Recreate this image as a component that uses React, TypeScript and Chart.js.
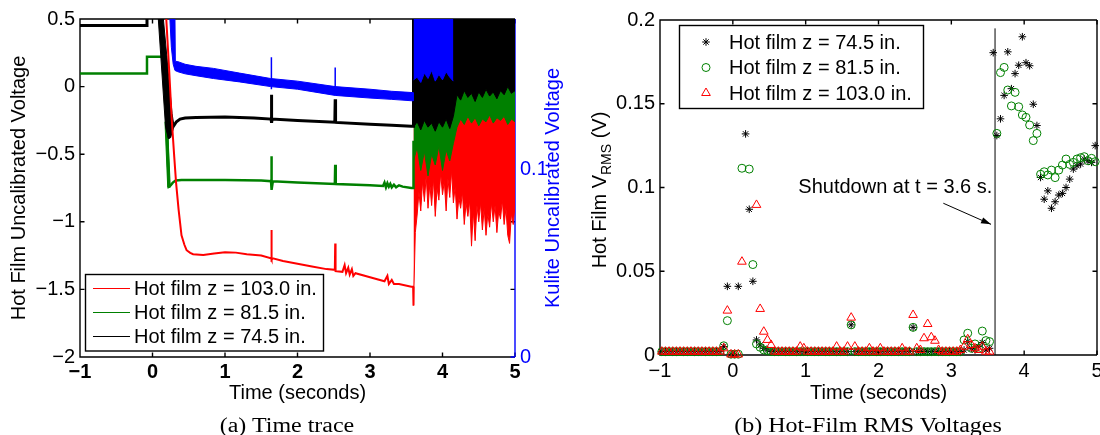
import React, { useEffect, useRef } from 'react';
import { Chart, registerables } from 'chart.js';

Chart.register(...registerables);

const SANS = '"Liberation Sans", Arial, Helvetica, sans-serif';
const SERIF = '"Liberation Serif", "Times New Roman", serif';
const RED = '#ff0000';
const GREEN = '#008000';
const BLACK = '#000000';
const BLUE = '#0000ff';

// ---------------- labels ----------------
const LABEL_Z1030 = 'Hot film z = 103.0 in.';
const LABEL_Z815 = 'Hot film z = 81.5 in.';
const LABEL_Z745 = 'Hot film z = 74.5 in.';
const CAPTION_A = '(a) Time trace';
const CAPTION_B = '(b) Hot-Film RMS Voltages';

// ---------------- (a) time trace ----------------
const TRACE_X_TICKS = [-1, 0, 1, 2, 3, 4, 5];
const TRACE_Y_TICKS = [-2, -1.5, -1, -0.5, 0, 0.5];
const KULITE_TICKS = [0, 0.1];

// hot film z = 103.0 in. (red), before shutdown
const RED_T = [0.19, 0.23, 0.265, 0.3, 0.325, 0.36, 0.4, 0.44, 0.47, 0.52, 0.56, 0.7, 0.85, 1.0, 1.15, 1.3, 1.5, 1.635, 1.64, 1.645, 1.66, 1.8, 2.0, 2.2, 2.4, 2.515, 2.52, 2.525, 2.62, 2.65, 2.67, 2.7, 2.72, 2.75, 2.77, 2.8, 3.0, 3.2, 3.24, 3.26, 3.3, 3.33, 3.4, 3.57, 3.595, 3.6];
const RED_V = [0.5, 0.12, -0.24, -0.52, -0.71, -0.91, -1.1, -1.17, -1.21, -1.23, -1.24, -1.245, -1.235, -1.225, -1.228, -1.24, -1.25, -1.27, -1.06, -1.28, -1.27, -1.29, -1.31, -1.33, -1.35, -1.355, -1.16, -1.365, -1.37, -1.32, -1.38, -1.34, -1.39, -1.35, -1.4, -1.38, -1.41, -1.44, -1.4, -1.46, -1.43, -1.46, -1.46, -1.48, -1.48, -1.62];

// hot film z = 81.5 in. (green), before shutdown
const GREEN_T = [-1, -0.076, -0.076, 0.185, 0.2, 0.225, 0.25, 0.28, 0.32, 0.4, 0.6, 1.0, 1.5, 1.635, 1.64, 1.645, 1.66, 2.0, 2.515, 2.52, 2.525, 2.53, 3.0, 3.18, 3.2, 3.22, 3.24, 3.26, 3.28, 3.3, 3.33, 3.36, 3.4, 3.45, 3.57, 3.595, 3.6];
const GREEN_V = [0.096, 0.096, 0.22, 0.22, -0.3, -0.74, -0.73, -0.71, -0.695, -0.69, -0.69, -0.69, -0.695, -0.7, -0.516, -0.764, -0.7, -0.71, -0.72, -0.578, -0.71, -0.72, -0.73, -0.735, -0.71, -0.745, -0.715, -0.74, -0.72, -0.745, -0.725, -0.745, -0.73, -0.74, -0.75, -0.75, -0.4];
const GREEN_COL_T = [0.172, 0.205, 0.245, 0.21, 0.172];
const GREEN_COL_V = [-0.26, -0.26, -0.745, -0.745, -0.26];

// hot film z = 74.5 in. (black), before shutdown
const BLACK_T = [-1, -0.076, -0.076, 0.0, 0.215, 0.24, 0.28, 0.33, 0.38, 0.45, 0.6, 1.0, 1.4, 1.635, 1.64, 1.645, 1.65, 2.0, 2.515, 2.52, 2.525, 3.0, 3.3, 3.57, 3.595, 3.6];
const BLACK_V = [0.452, 0.452, 0.5, null, -0.38, -0.37, -0.3, -0.26, -0.24, -0.232, -0.228, -0.225, -0.232, -0.24, -0.06, -0.268, -0.24, -0.25, -0.264, -0.094, -0.265, -0.278, -0.285, -0.294, -0.294, 0.5];
const BLACK_WEDGE_T = [0.08, 0.15, 0.27, 0.29, 0.245, 0.22, 0.18, 0.08];
const BLACK_WEDGE_V = [0.5, 0.5, -0.2, -0.27, -0.37, -0.385, -0.3, 0.5];

// after shutdown: lower edge of each saturated noise band (band runs to the top)
const HOTFILM_POST_T = [3.6, 3.65, 3.7, 3.75, 3.8, 3.85, 3.9, 3.95, 4.0, 4.05, 4.1, 4.15, 4.2, 4.25, 4.3, 4.35, 4.4, 4.45, 4.5, 4.55, 4.6, 4.65, 4.7, 4.75, 4.8, 4.85, 4.9, 4.95, 5.0];
const BLACK_POST_LOW = [-0.3, -0.26, -0.32, -0.25, -0.3, -0.27, -0.33, -0.26, -0.3, -0.24, -0.31, -0.22, -0.06, -0.1, -0.03, -0.08, -0.05, -0.11, -0.04, -0.08, -0.02, -0.07, -0.04, -0.09, -0.03, -0.06, 0.0, -0.05, -0.03];
const GREEN_POST_LOW = [-0.55, -0.45, -0.62, -0.48, -0.66, -0.5, -0.58, -0.44, -0.62, -0.47, -0.55, -0.42, -0.3, -0.24, -0.28, -0.22, -0.27, -0.23, -0.29, -0.24, -0.26, -0.21, -0.27, -0.23, -0.25, -0.22, -0.28, -0.24, -0.26];
const RED_POST_T = [3.6, 3.625, 3.65, 3.675, 3.7, 3.725, 3.75, 3.775, 3.8, 3.825, 3.85, 3.875, 3.9, 3.925, 3.95, 3.975, 4.0, 4.025, 4.05, 4.075, 4.1, 4.125, 4.15, 4.175, 4.2, 4.225, 4.25, 4.275, 4.3, 4.325, 4.35, 4.375, 4.4, 4.425, 4.45, 4.475, 4.5, 4.525, 4.55, 4.575, 4.6, 4.625, 4.65, 4.675, 4.7, 4.725, 4.75, 4.775, 4.8, 4.825, 4.85, 4.875, 4.9, 4.925, 4.95, 4.975, 5.0];
const RED_POST_LOW = [-1.62, -1.08, -0.95, -0.78, -0.92, -0.7, -0.85, -0.66, -0.9, -0.72, -0.88, -0.68, -0.96, -0.75, -0.84, -0.64, -0.8, -0.7, -0.92, -0.68, -0.82, -0.62, -0.86, -0.74, -0.98, -0.82, -0.9, -0.78, -1.02, -0.86, -0.96, -0.84, -1.18, -0.92, -1.14, -0.88, -1.0, -0.86, -1.06, -0.9, -1.1, -0.94, -1.04, -0.86, -1.0, -0.88, -1.08, -0.92, -0.98, -0.84, -1.02, -0.9, -1.1, -1.16, -0.94, -1.02, -0.88];

// Kulite (blue, right axis): noisy band outline, spikes, post-shutdown band
const BLUE_BAND_T = [0.24, 0.31, 0.315, 0.35, 0.45, 0.6, 0.84, 1.2, 1.63, 2.0, 2.52, 3.0, 3.3, 3.595, 3.595, 3.3, 3.0, 2.52, 2.0, 1.63, 1.2, 0.84, 0.6, 0.45, 0.35, 0.31, 0.285, 0.26, 0.24];
const BLUE_BAND_K = [0.18, 0.18, 0.1575, 0.1573, 0.1559, 0.1548, 0.1537, 0.1512, 0.1483, 0.1469, 0.144, 0.1426, 0.1415, 0.1408, 0.1364, 0.1372, 0.1379, 0.1393, 0.1426, 0.144, 0.1465, 0.1483, 0.1498, 0.1508, 0.1519, 0.1526, 0.156, 0.165, 0.18];
const BLUE_SPIKE_T = [1.64, 1.64, 2.0, 2.52, 2.52];
const BLUE_SPIKE_K = [0.1426, 0.1596, null, 0.14, 0.1542];
const BLUE_POST_T = [3.6, 3.65, 3.7, 3.75, 3.8, 3.85, 3.9, 3.95, 4.0, 4.05, 4.1, 4.15];
const BLUE_POST_LOW = [0.1476, 0.149, 0.1462, 0.1512, 0.1483, 0.1526, 0.1469, 0.1505, 0.1476, 0.1519, 0.149, 0.1469];

// ---------------- (b) RMS voltages ----------------
const RMS_X_TICKS = [-1, 0, 1, 2, 3, 4, 5];
const RMS_Y_TICKS = [0, 0.05, 0.1, 0.15, 0.2];
const RMS_T = [
  -0.975, -0.925, -0.875, -0.825, -0.775, -0.725, -0.675, -0.625, -0.575, -0.525,
  -0.475, -0.425, -0.375, -0.325, -0.275, -0.225, -0.175, -0.125, -0.075, -0.025,
  0.025, 0.075, 0.125, 0.175, 0.225, 0.275, 0.325, 0.375, 0.425, 0.475,
  0.525, 0.575, 0.625, 0.675, 0.725, 0.775, 0.825, 0.875, 0.925, 0.975,
  1.025, 1.075, 1.125, 1.175, 1.225, 1.275, 1.325, 1.375, 1.425, 1.475,
  1.525, 1.575, 1.625, 1.675, 1.725, 1.775, 1.825, 1.875, 1.925, 1.975,
  2.025, 2.075, 2.125, 2.175, 2.225, 2.275, 2.325, 2.375, 2.425, 2.475,
  2.525, 2.575, 2.625, 2.675, 2.725, 2.775, 2.825, 2.875, 2.925, 2.975,
  3.025, 3.075, 3.125, 3.175, 3.225, 3.275, 3.325, 3.375, 3.425, 3.475,
  3.525, 3.575, 3.625, 3.675, 3.725, 3.775, 3.825, 3.875, 3.925, 3.975,
  4.025, 4.075, 4.125, 4.175, 4.225, 4.275, 4.325, 4.375, 4.425, 4.475,
  4.525, 4.575, 4.625, 4.675, 4.725, 4.775, 4.825, 4.875, 4.925, 4.975,
];
const RMS_Z745 = [
  0.002, 0.002, 0.002, 0.002, 0.002, 0.002, 0.002, 0.002, 0.002, 0.002,
  0.002, 0.002, 0.002, 0.002, 0.002, 0.002, 0.002, 0.005, 0.041, 0.0004,
  0.0004, 0.041, null, 0.132, 0.087, 0.044, 0.009, 0.006, 0.004, 0.003,
  0.002, 0.002, 0.002, 0.002, 0.002, 0.002, 0.002, 0.002, 0.002, 0.002,
  0.002, 0.002, 0.002, 0.002, 0.002, 0.002, 0.002, 0.002, 0.002, 0.002,
  0.002, 0.002, 0.018, 0.002, 0.002, 0.002, 0.002, 0.002, 0.002, 0.002,
  0.002, 0.002, 0.002, 0.002, 0.002, 0.002, 0.002, 0.002, 0.002, 0.0165,
  0.002, 0.002, 0.002, 0.002, 0.002, 0.002, 0.002, 0.002, 0.002, 0.002,
  0.002, 0.002, 0.002, 0.003, 0.008, 0.004, 0.003, 0.005, 0.0074, 0.003,
  0.004, 0.1805, 0.131, 0.141, 0.155, 0.181, 0.159, 0.168, 0.173, 0.19,
  0.1745, 0.1727, 0.1497, 0.137, 0.106, 0.093, 0.098, 0.0876, 0.0915, 0.0955,
  0.0965, 0.1, 0.105, 0.111, 0.113, 0.114, 0.117, 0.116, 0.115, 0.125,
];
const RMS_Z815 = [
  0.002, 0.002, 0.002, 0.002, 0.002, 0.002, 0.002, 0.002, 0.002, 0.002,
  0.002, 0.002, 0.002, 0.002, 0.002, 0.002, 0.002, 0.0055, 0.0205, 0.0005,
  0.0005, 0.0005, 0.1115, null, 0.111, 0.054, 0.0066, 0.0046, 0.003, 0.0025,
  0.002, 0.002, 0.002, 0.002, 0.002, 0.002, 0.002, 0.002, 0.002, 0.002,
  0.002, 0.002, 0.002, 0.002, 0.002, 0.002, 0.002, 0.002, 0.002, 0.002,
  0.002, 0.002, 0.018, 0.002, 0.002, 0.002, 0.002, 0.002, 0.002, 0.002,
  0.002, 0.002, 0.002, 0.002, 0.002, 0.002, 0.002, 0.002, 0.002, 0.0165,
  0.002, 0.002, 0.002, 0.002, 0.002, 0.002, 0.002, 0.002, 0.002, 0.002,
  0.002, 0.002, 0.002, 0.009, 0.013, 0.004, 0.0066, 0.004, 0.0143, 0.0086,
  0.008, null, 0.1323, 0.1686, 0.1717, 0.1582, 0.1487, 0.1568, 0.1482, 0.1433,
  0.1419, 0.1373, 0.128, 0.1323, 0.1079, 0.1094, 0.1075, 0.1104, 0.1059, 0.1104,
  0.1134, 0.117, 0.1138, 0.115, 0.117, 0.1178, 0.1184, 0.116, 0.1174, 0.1154,
];
const RMS_Z1030 = [
  0.002, 0.002, 0.002, 0.002, 0.002, 0.002, 0.002, 0.002, 0.002, 0.002,
  0.002, 0.002, 0.002, 0.002, 0.002, 0.002, 0.002, 0.004, 0.0265, 0.0003,
  0.0003, 0.0003, 0.0557, null, null, null, 0.0896, 0.0275, 0.0139, 0.009,
  0.006, 0.002, 0.002, 0.002, 0.002, 0.002, 0.002, 0.002, 0.005, 0.004,
  0.002, 0.002, 0.002, 0.002, 0.002, 0.002, 0.002, 0.002, 0.005, 0.002,
  0.002, 0.005, 0.0223, 0.005, 0.002, 0.002, 0.002, 0.004, 0.002, 0.002,
  0.004, 0.002, 0.002, 0.002, 0.002, 0.002, 0.004, 0.002, 0.002, 0.0239,
  0.004, 0.003, 0.01, 0.0185, 0.0106, 0.0085, 0.003, 0.002, 0.002, 0.002,
  0.002, 0.002, 0.003, 0.005, 0.0094, 0.006, 0.004, 0.003, 0.005, 0.002,
  0.002, null, null, null, null, null, null, null, null, null,
  null, null, null, null, null, null, null, null, null, null,
  null, null, null, null, null, null, null, null, null, null,
];
const SHUTDOWN_T = 3.6;
const SHUTDOWN_TOP = 0.195;
const SHUTDOWN_TEXT = 'Shutdown at t = 3.6 s.';
const SHUTDOWN_TEXT_AT = [3.563, 0.1003];
const ARROW_FROM = [2.89, 0.0906];
const ARROW_TO = [3.545, 0.078];

// ---------------- helpers ----------------
const xy = (t: number[], v: (number | null)[]) => t.map((x, i) => ({ x, y: v[i] }));
const fmt = (v: number) => String(Math.round(v * 1000) / 1000).replace('-', '\u2212');

function lineDs(label: string, t: number[], v: (number | null)[], color: string, width: number, axis: string, order: number) {
  return { label, data: xy(t, v), borderColor: color, backgroundColor: color, borderWidth: width, pointRadius: 0, fill: false, yAxisID: axis, order, clip: 0, tension: 0 };
}
function bandDs(label: string, t: number[], v: (number | null)[], color: string, axis: string, fill: string, order: number) {
  return { label, data: xy(t, v), borderColor: color, backgroundColor: color, borderWidth: 1, pointRadius: 0, fill, yAxisID: axis, order, clip: 0, tension: 0 };
}

function drawMarker(ctx: CanvasRenderingContext2D, style: string, x: number, y: number, r: number, color: string) {
  ctx.save();
  ctx.strokeStyle = color;
  ctx.lineWidth = 1;
  ctx.beginPath();
  if (style === 'star') {
    const d = r * Math.SQRT1_2;
    ctx.moveTo(x - r, y); ctx.lineTo(x + r, y);
    ctx.moveTo(x, y - r); ctx.lineTo(x, y + r);
    ctx.moveTo(x - d, y - d); ctx.lineTo(x + d, y + d);
    ctx.moveTo(x - d, y + d); ctx.lineTo(x + d, y - d);
  } else if (style === 'circle') {
    ctx.arc(x, y, r, 0, Math.PI * 2);
  } else {
    const a = (2 * Math.PI) / 3;
    ctx.moveTo(x, y - r);
    ctx.lineTo(x + Math.sin(a) * r, y - Math.cos(a) * r);
    ctx.lineTo(x + Math.sin(2 * a) * r, y - Math.cos(2 * a) * r);
    ctx.closePath();
  }
  ctx.stroke();
  ctx.restore();
}

function framePlugin(id: string, yScaleId: string, xTicks: number[], yTicks: number[], rightColor: string, extra?: { scale: string; values: number[]; color: string }) {
  return {
    id,
    beforeDatasetsDraw(chart: any) {
      const { ctx, chartArea: a } = chart;
      const xs = chart.scales.x;
      const ys = chart.scales[yScaleId];
      const L = 4.5;
      ctx.save();
      ctx.lineWidth = 1.4;
      ctx.strokeStyle = BLACK;
      ctx.beginPath();
      for (const v of xTicks) {
        const p = xs.getPixelForValue(v);
        ctx.moveTo(p, a.bottom); ctx.lineTo(p, a.bottom - L);
        ctx.moveTo(p, a.top); ctx.lineTo(p, a.top + L);
      }
      for (const v of yTicks) {
        const p = ys.getPixelForValue(v);
        ctx.moveTo(a.left, p); ctx.lineTo(a.left + L, p);
        ctx.moveTo(a.right, p); ctx.lineTo(a.right - L, p);
      }
      ctx.moveTo(a.right, a.top); ctx.lineTo(a.left, a.top); ctx.lineTo(a.left, a.bottom); ctx.lineTo(a.right, a.bottom);
      ctx.stroke();
      ctx.strokeStyle = rightColor;
      ctx.beginPath();
      ctx.moveTo(a.right, a.top); ctx.lineTo(a.right, a.bottom);
      if (extra) {
        const es = chart.scales[extra.scale];
        for (const v of extra.values) {
          const p = es.getPixelForValue(v);
          ctx.moveTo(a.right, p); ctx.lineTo(a.right - L, p);
        }
      }
      ctx.stroke();
      ctx.restore();
    },
  };
}

const traceOverlay = {
  id: 'traceOverlay',
  afterDatasetsDraw(chart: any) {
    const ctx = chart.ctx as CanvasRenderingContext2D;
    ctx.save();
    const bx = 85.5, by = 274.5, bw = 238, bh = 76.5;
    ctx.fillStyle = '#ffffff';
    ctx.fillRect(bx, by, bw, bh);
    ctx.strokeStyle = BLACK;
    ctx.lineWidth = 1.4;
    ctx.strokeRect(bx, by, bw, bh);
    ctx.lineWidth = 1;
    ctx.font = `20px ${SANS}`;
    ctx.textBaseline = 'middle';
    ctx.textAlign = 'left';
    const items = [[LABEL_Z1030, RED], [LABEL_Z815, GREEN], [LABEL_Z745, BLACK]];
    items.forEach(([label, color], i) => {
      const y = 288.5 + i * 24;
      ctx.strokeStyle = color;
      ctx.beginPath();
      ctx.moveTo(93, y); ctx.lineTo(130, y);
      ctx.stroke();
      ctx.fillStyle = BLACK;
      ctx.fillText(label, 134, y + 1);
    });
    ctx.translate(553, 188);
    ctx.rotate(-Math.PI / 2);
    ctx.fillStyle = BLUE;
    ctx.textAlign = 'center';
    ctx.fillText('Kulite Uncalibrated Voltage', 0, 0);
    ctx.restore();
  },
};

const rmsOverlay = {
  id: 'rmsOverlay',
  afterDatasetsDraw(chart: any) {
    const ctx = chart.ctx as CanvasRenderingContext2D;
    const xs = chart.scales.x, ys = chart.scales.y;
    ctx.save();
    // legend
    const bx = 109.5, by = 25.5, bw = 244, bh = 83;
    ctx.fillStyle = '#ffffff';
    ctx.fillRect(bx, by, bw, bh);
    ctx.strokeStyle = BLACK;
    ctx.lineWidth = 1.4;
    ctx.strokeRect(bx, by, bw, bh);
    ctx.lineWidth = 1;
    ctx.font = `20px ${SANS}`;
    ctx.textBaseline = 'middle';
    ctx.textAlign = 'left';
    const items: [string, string, string, number][] = [[LABEL_Z745, 'star', BLACK, 3.8], [LABEL_Z815, 'circle', GREEN, 4], [LABEL_Z1030, 'triangle', RED, 5]];
    items.forEach(([label, style, color, r], i) => {
      const y = 42 + i * 25.5;
      drawMarker(ctx, style, 136, y, r, color);
      ctx.fillStyle = BLACK;
      ctx.fillText(label, 159, y + 1);
    });
    // annotation
    ctx.textAlign = 'right';
    ctx.fillText(SHUTDOWN_TEXT, xs.getPixelForValue(SHUTDOWN_TEXT_AT[0]), ys.getPixelForValue(SHUTDOWN_TEXT_AT[1]));
    const x0 = xs.getPixelForValue(ARROW_FROM[0]), y0 = ys.getPixelForValue(ARROW_FROM[1]);
    const x1 = xs.getPixelForValue(ARROW_TO[0]), y1 = ys.getPixelForValue(ARROW_TO[1]);
    const ang = Math.atan2(y1 - y0, x1 - x0);
    ctx.strokeStyle = BLACK;
    ctx.beginPath();
    ctx.moveTo(x0, y0); ctx.lineTo(x1, y1);
    ctx.stroke();
    ctx.fillStyle = BLACK;
    ctx.beginPath();
    ctx.moveTo(x1, y1);
    ctx.lineTo(x1 - 10 * Math.cos(ang) + 3.2 * Math.sin(ang), y1 - 10 * Math.sin(ang) - 3.2 * Math.cos(ang));
    ctx.lineTo(x1 - 10 * Math.cos(ang) - 3.2 * Math.sin(ang), y1 - 10 * Math.sin(ang) + 3.2 * Math.cos(ang));
    ctx.closePath();
    ctx.fill();
    // y title with subscript
    const main = 'Hot Film V', sub = 'RMS', tail = ' (V)';
    ctx.font = `20px ${SANS}`;
    const w1 = ctx.measureText(main).width;
    const w3 = ctx.measureText(tail).width;
    ctx.font = `14px ${SANS}`;
    const w2 = ctx.measureText(sub).width;
    const total = w1 + w2 + w3;
    ctx.translate(30, 190);
    ctx.rotate(-Math.PI / 2);
    ctx.textAlign = 'left';
    ctx.fillStyle = BLACK;
    let x = -total / 2;
    ctx.font = `20px ${SANS}`;
    ctx.fillText(main, x, 0);
    x += w1;
    ctx.font = `14px ${SANS}`;
    ctx.fillText(sub, x, 7);
    x += w2;
    ctx.font = `20px ${SANS}`;
    ctx.fillText(tail, x, 0);
    ctx.restore();
  },
};

function setTicks(values: number[]) {
  return (axis: any) => {
    axis.ticks = values.map((value) => ({ value }));
  };
}

function traceConfig(): any {
  return {
    type: 'line',
    data: {
      datasets: [
        bandDs('Kulite', BLUE_BAND_T, BLUE_BAND_K, BLUE, 'y1', 'shape', 0),
        lineDs('Kulite spikes', BLUE_SPIKE_T, BLUE_SPIKE_K, BLUE, 1.5, 'y1', 0),
        bandDs('Kulite after shutdown', BLUE_POST_T, BLUE_POST_LOW, BLUE, 'y1', 'end', 1),
        lineDs(LABEL_Z1030, RED_T, RED_V, RED, 2, 'y', 2),
        lineDs(LABEL_Z745, BLACK_T, BLACK_V, BLACK, 3, 'y', 3),
        bandDs(LABEL_Z745 + ' startup', BLACK_WEDGE_T, BLACK_WEDGE_V, BLACK, 'y', 'shape', 3),
        lineDs(LABEL_Z815, GREEN_T, GREEN_V, GREEN, 2.5, 'y', 4),
        bandDs(LABEL_Z815 + ' startup', GREEN_COL_T, GREEN_COL_V, GREEN, 'y', 'shape', 4),
        bandDs(LABEL_Z745 + ' after shutdown', HOTFILM_POST_T, BLACK_POST_LOW, BLACK, 'y', 'end', 5),
        bandDs(LABEL_Z815 + ' after shutdown', HOTFILM_POST_T, GREEN_POST_LOW, GREEN, 'y', 'end', 6),
        bandDs(LABEL_Z1030 + ' after shutdown', RED_POST_T, RED_POST_LOW, RED, 'y', 'end', 7),
      ],
    },
    options: {
      responsive: false,
      animation: false,
      events: [],
      layout: { padding: { left: 0, right: 0, top: 19, bottom: 0 } },
      plugins: { legend: { display: false }, tooltip: { enabled: false } },
      scales: {
        x: {
          type: 'linear', min: -1, max: 5, position: 'bottom',
          afterBuildTicks: setTicks(TRACE_X_TICKS),
          afterFit: (s: any) => { s.height = 78; },
          grid: { display: false, drawTicks: false },
          border: { display: false },
          ticks: { callback: (v: number) => fmt(v), color: BLACK, padding: 3.5, maxRotation: 0, autoSkip: false, font: { family: SANS, size: 20, weight: 'bold' } },
          title: { display: true, text: 'Time (seconds)', color: BLACK, font: { family: SANS, size: 20 }, padding: { top: 0, bottom: 30 } },
        },
        y: {
          type: 'linear', min: -2, max: 0.5, position: 'left',
          afterBuildTicks: setTicks(TRACE_Y_TICKS),
          afterFit: (s: any) => { s.width = 80; },
          grid: { display: false, drawTicks: false },
          border: { display: false },
          ticks: { callback: (v: number) => fmt(v), color: BLACK, padding: 5, autoSkip: false, font: { family: SANS, size: 20 } },
          title: { display: true, text: 'Hot Film Uncalibrated Voltage', color: BLACK, font: { family: SANS, size: 20 }, padding: { top: 7, bottom: 0 } },
        },
        y1: {
          type: 'linear', min: 0, max: 0.18, position: 'right',
          afterBuildTicks: setTicks(KULITE_TICKS),
          afterFit: (s: any) => { s.width = 55; },
          grid: { display: false, drawTicks: false },
          border: { display: false },
          ticks: { callback: (v: number) => fmt(v), color: BLUE, padding: 5, autoSkip: false, font: { family: SANS, size: 20 } },
        },
      },
    },
    plugins: [framePlugin('traceFrame', 'y', TRACE_X_TICKS, TRACE_Y_TICKS, BLUE, { scale: 'y1', values: KULITE_TICKS, color: BLUE }), traceOverlay],
  };
}

function rmsConfig(): any {
  const pts = (label: string, v: (number | null)[], style: string, color: string, r: number, order: number) => ({
    label, data: xy(RMS_T, v), showLine: false, pointStyle: style, pointRadius: r, pointBorderWidth: 1,
    borderColor: color, backgroundColor: 'rgba(0,0,0,0)', pointBorderColor: color, pointBackgroundColor: 'rgba(0,0,0,0)', order, clip: 6,
  });
  return {
    type: 'scatter',
    data: {
      datasets: [
        pts(LABEL_Z1030, RMS_Z1030, 'triangle', RED, 5, 0),
        pts(LABEL_Z815, RMS_Z815, 'circle', GREEN, 4, 1),
        pts(LABEL_Z745, RMS_Z745, 'star', BLACK, 3.8, 2),
        { label: 'Shutdown', data: [{ x: SHUTDOWN_T, y: 0 }, { x: SHUTDOWN_T, y: SHUTDOWN_TOP }], showLine: true, borderColor: BLACK, borderWidth: 1, pointRadius: 0, order: 3, clip: 0 },
      ],
    },
    options: {
      responsive: false,
      animation: false,
      events: [],
      layout: { padding: { left: 0, right: 13, top: 20, bottom: 0 } },
      plugins: { legend: { display: false }, tooltip: { enabled: false } },
      scales: {
        x: {
          type: 'linear', min: -1, max: 5, position: 'bottom',
          afterBuildTicks: setTicks(RMS_X_TICKS),
          afterFit: (s: any) => { s.height = 80; },
          grid: { display: false, drawTicks: false },
          border: { display: false },
          ticks: { callback: (v: number) => fmt(v), color: BLACK, padding: 4, maxRotation: 0, autoSkip: false, font: { family: SANS, size: 20 } },
          title: { display: true, text: 'Time (seconds)', color: BLACK, font: { family: SANS, size: 20 }, padding: { top: 0, bottom: 30 } },
        },
        y: {
          type: 'linear', min: 0, max: 0.2, position: 'left',
          afterBuildTicks: setTicks(RMS_Y_TICKS),
          afterFit: (s: any) => { s.width = 90; },
          grid: { display: false, drawTicks: false },
          border: { display: false },
          ticks: { callback: (v: number) => fmt(v), color: BLACK, padding: 5, autoSkip: false, font: { family: SANS, size: 20 } },
        },
      },
    },
    plugins: [framePlugin('rmsFrame', 'y', RMS_X_TICKS, RMS_Y_TICKS, BLACK), rmsOverlay],
  };
}

const captionStyle = (cx: number): React.CSSProperties => ({
  position: 'absolute', left: cx, top: 413, transform: 'translateX(-50%) scaleX(1.17)',
  fontFamily: SERIF, fontSize: 20.5, lineHeight: '24px', whiteSpace: 'nowrap', color: BLACK,
});

export default function App() {
  const leftRef = useRef<HTMLCanvasElement>(null);
  const rightRef = useRef<HTMLCanvasElement>(null);
  useEffect(() => {
    const a = new Chart(leftRef.current as HTMLCanvasElement, traceConfig());
    const b = new Chart(rightRef.current as HTMLCanvasElement, rmsConfig());
    return () => { a.destroy(); b.destroy(); };
  }, []);
  return (
    <div style={{ position: 'fixed', left: 0, top: 0, width: 1100, height: 435, overflow: 'hidden', background: '#ffffff' }}>
      <canvas ref={leftRef} width={570} height={435} style={{ position: 'absolute', left: 0, top: 0 }} />
      <canvas ref={rightRef} width={540} height={435} style={{ position: 'absolute', left: 570, top: 0 }} />
      <div style={captionStyle(287)}>{CAPTION_A}</div>
      <div style={captionStyle(868)}>{CAPTION_B}</div>
    </div>
  );
}
